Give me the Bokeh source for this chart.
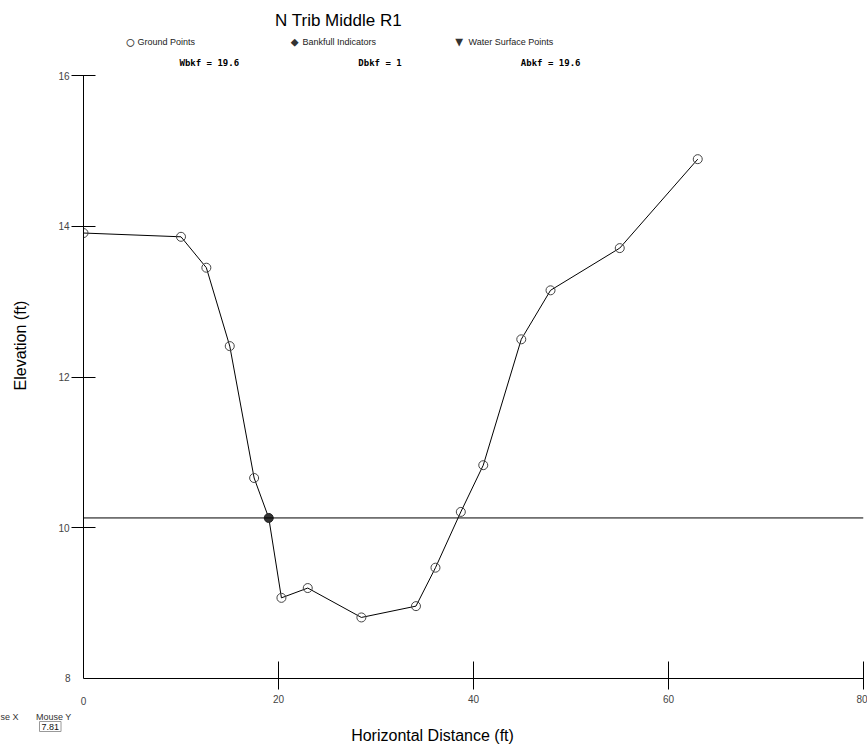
import math
from bokeh.plotting import figure
from bokeh.models import Label, Span, FixedTicker, Range1d
from bokeh.embed import file_html
from bokeh.resources import INLINE

# ---------------- data ----------------
chart_title = "N Trib Middle R1"
x_label = "Horizontal Distance (ft)"
y_label = "Elevation (ft)"
legend_items = ["Ground Points", "Bankfull Indicators", "Water Surface Points"]
legend_symbols = ["\u25cb", "\u25c6", "\u25bc"]

ground_x = [0.0, 10.0, 12.6, 15.0, 17.5, 20.3, 23.0, 28.5, 34.1, 36.1, 38.7, 41.0, 44.9, 47.9, 55.0, 63.0]
ground_y = [13.91, 13.86, 13.45, 12.41, 10.66, 9.07, 9.20, 8.81, 8.96, 9.47, 10.21, 10.83, 12.50, 13.15, 13.71, 14.89]
bankfull_x = [19.0]
bankfull_y = [10.13]
bankfull_elevation = 10.13

wbkf = 19.6
dbkf = 1
abkf = 19.6
mouse_y = "7.81"

x_ticks = [20, 40, 60, 80]
y_ticks = [10, 12, 14, 16]
x_min, x_max = 0, 80
y_min, y_max = 8, 16

profile = sorted(zip(ground_x + bankfull_x, ground_y + bankfull_y))
profile_x = [q[0] for q in profile]
profile_y = [q[1] for q in profile]

# ---------------- layout ----------------
W, H = 867, 751
BL, BR, BT, BB = 83, 4, 75, 73
NB = "\u00a0"

p = figure(width=W, height=H, output_backend="svg", toolbar_location=None,
           x_range=Range1d(x_min, x_max), y_range=Range1d(y_min, y_max),
           min_border_left=BL, min_border_right=BR, min_border_top=BT, min_border_bottom=BB,
           tools="")
p.outline_line_color = None
p.grid.visible = False
p.background_fill_color = "white"
p.border_fill_color = "white"

for ax in (p.xaxis[0], p.yaxis[0]):
    ax.axis_line_color = "black"
    ax.axis_line_width = 1
    ax.major_tick_line_color = "black"
    ax.minor_tick_line_color = None
    ax.major_label_text_font = "Liberation Sans"
    ax.major_label_text_font_size = "10px"
    ax.major_label_text_color = "#444444"

p.xaxis[0].ticker = FixedTicker(ticks=x_ticks)
p.xaxis[0].major_tick_in = 17
p.xaxis[0].major_tick_out = 11
p.xaxis[0].major_label_standoff = 5
p.yaxis[0].ticker = FixedTicker(ticks=y_ticks)
p.yaxis[0].major_tick_in = 12
p.yaxis[0].major_tick_out = 12
p.yaxis[0].major_label_standoff = 2

p.add_layout(Span(location=bankfull_elevation, dimension="width", line_color="black", line_width=1))

p.line(profile_x, profile_y, line_color="black", line_width=1)
p.scatter(ground_x, ground_y, marker="circle", size=9, fill_color=None,
          line_color="#444444", line_width=1)
p.scatter(bankfull_x, bankfull_y, marker="circle", size=9, fill_color="#333333",
          line_color="#222222", line_width=1)


def add_label(panel, text, cx, cy, font="Liberation Sans", size="10px", color="black",
              align="left", baseline="middle", style="normal", angle=0.0, **kw):
    # texts outside the plotting frame live in side panels (not clipped); canvas px coords
    p.add_layout(Label(x=cx, y=cy, x_units="canvas", y_units="canvas", text=text,
                       text_font=font, text_font_size=size,
                       text_color=color, text_align=align, text_baseline=baseline,
                       text_font_style=style, angle=angle, **kw), panel)


# ---- above panel ----
add_label("above", chart_title, 338, 20, size="17px", align="center")
symbols_row = (NB * 20).join(legend_symbols)
add_label("above", symbols_row, 126, 41, font="DejaVu Sans Mono", size="13px", color="#333333")
add_label("above", legend_items[0], 137, 41, size="9px", color="#222222")
add_label("above", legend_items[1], 302, 41, size="9px", color="#222222")
add_label("above", legend_items[2], 468, 41, size="9px", color="#222222")
stats_row = (f"Wbkf = {wbkf}" + NB * 22 + f"Dbkf = {dbkf}" + NB * 22 + f"Abkf = {abkf}")
add_label("above", stats_row, 179, 62, font="DejaVu Sans Mono", size="9px", style="bold")

# ---- left panel ----
add_label("left", f"{y_min}", 70, 677, size="10px", color="#444444", align="right")
add_label("left", f"{x_min}", 83, 700, size="10px", color="#444444", align="center")
add_label("left", y_label, 20, 345, size="16px", align="center", angle=math.pi / 2)

# ---- below panel ----
add_label("below", x_label, 432, 735, size="16px", align="center")
add_label("below", "se X" + NB * 7 + "Mouse Y", 0, 716, size="9px", color="#333333")
add_label("below", mouse_y, 39, 726, size="9px", color="#111111",
          border_line_color="#999999", border_line_width=1, padding=2)

open("out.html", "w").write(file_html(p, INLINE))
